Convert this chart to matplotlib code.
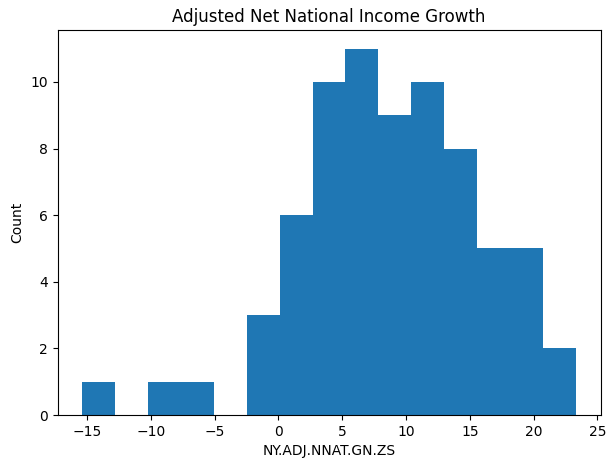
import numpy as np
import matplotlib
matplotlib.use('Agg')
import matplotlib.pyplot as plt

# histogram bin edges and counts (15 bins)
lo = -15.38
hi = 23.31
edges = np.linspace(lo, hi, 16)
counts = [1, 0, 1, 1, 0, 3, 6, 10, 11, 9, 10, 8, 5, 5, 2]

fig = plt.figure(figsize=(6.14, 4.68), dpi=100)
ax = fig.add_axes([0.0937, 0.1132, 0.8844, 0.822])

ax.hist(edges[:-1], bins=edges, weights=counts, color='#1f77b4')
ax.set_title('Adjusted Net National Income Growth')
ax.set_xlabel('NY.ADJ.NNAT.GN.ZS')
ax.set_ylabel('Count')

plt.savefig('out.png', dpi=100)
